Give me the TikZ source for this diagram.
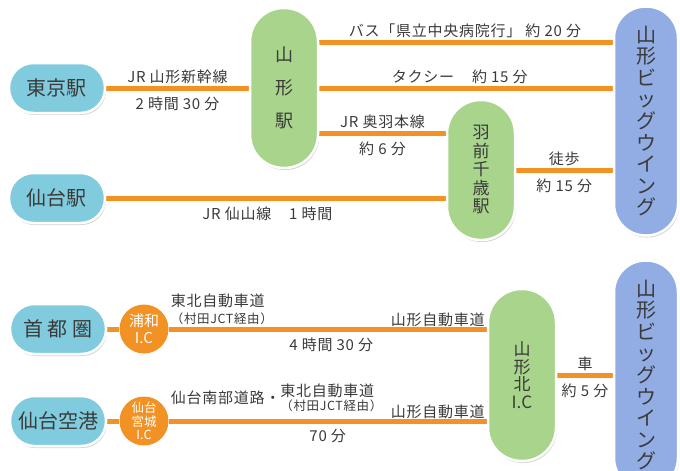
\documentclass[tikz,border=0pt]{standalone}
\usepackage{fontspec}
\setmainfont{Noto Sans CJK JP}
\newfontfamily\lblfont[LetterSpace=5]{Noto Sans CJK JP}
\usetikzlibrary{shadows,backgrounds}

\definecolor{skyc}{RGB}{128,204,222}
\definecolor{leafc}{RGB}{168,212,140}
\definecolor{wingc}{RGB}{146,172,228}
\definecolor{routec}{RGB}{242,146,36}
\definecolor{inkc}{RGB}{58,58,58}

\tikzset{
pill/.style={draw=white, line width=2.5pt, text=inkc, drop shadow={shadow xshift=1pt, shadow yshift=-2pt, opacity=.35}},
originbox/.style={pill, fill=skyc, minimum width=96pt, minimum height=50pt, rounded corners=24.5pt, font=\fontsize{20}{22}\selectfont},
stopbox/.style={pill, fill=leafc, minimum width=68pt, rounded corners=33.5pt, align=center},
goalbox/.style={pill, fill=wingc, minimum width=64pt, minimum height=229pt, rounded corners=31.5pt, align=center, font=\fontsize{20}{21.6}\selectfont},
icbox/.style={circle, fill=routec, minimum size=49pt, inner sep=0pt, text=white, align=center},
route/.style={draw=routec, line width=5pt},
lbl/.style={text=inkc, inner sep=2pt, font=\lblfont\fontsize{15}{17}\selectfont},
}

\begin{document}
\begin{tikzpicture}[x=1pt, y=-1pt]
\useasboundingbox (0,0) rectangle (680,471);
% railway
\node[originbox] (tokyo) at (57,88) {東京駅};
\node[originbox] (sendai) at (57,198) {仙台駅};
\node[stopbox, minimum height=160pt, font=\fontsize{18}{33}\selectfont] (yamaeki) at (284,88) {山\\形\\駅};
\node[stopbox, minimum height=140pt, font=\fontsize{17}{18.5}\selectfont] (uzen) at (481,170) {羽\\前\\千\\歳\\駅};
\node[goalbox] (wingA) at (646,121) {山\\形\\ビ\\ッ\\グ\\ウ\\イ\\ン\\グ};
% highway
\node[originbox] (shuto) at (58,329) {首 都 圏};
\node[originbox] (airport) at (58,421) {仙台空港};
\node[icbox, font=\fontsize{15}{17}\selectfont] (urawa) at (144,329) {浦和\\I.C};
\node[icbox, font=\fontsize{12.5}{13.5}\selectfont] (miyagi) at (144,421) {仙台\\宮城\\I.C};
\node[stopbox, minimum height=172pt, font=\fontsize{17}{17.5}\selectfont] (kita) at (522,375) {山\\形\\北\\I.C};
\node[goalbox] (wingB) at (646,375) {山\\形\\ビ\\ッ\\グ\\ウ\\イ\\ン\\グ};

\coordinate (busL) at ([yshift=46pt]yamaeki.center);
\coordinate (ouL) at ([yshift=-45pt]yamaeki.center);

\begin{scope}[on background layer]
\draw[route] (tokyo) -- node[lbl, above] {JR 山形新幹線} node[lbl, below=4pt] {2 時間 30 分} (yamaeki);
\draw[route] (busL) -- node[lbl, above] {バス「県立中央病院行」 約 20 分} (busL -| wingA);
\draw[route] (yamaeki) -- node[lbl, above, pos=.43] {タクシー\hspace{1.2em}約 15 分} (yamaeki -| wingA);
\draw[route] (ouL) -- node[lbl, above] {JR 奥羽本線} node[lbl, below=4pt] {約 6 分} (ouL -| uzen);
\draw[route] (sendai) -- node[lbl, below=4pt, pos=.43] {JR 仙山線\hspace{1.2em}1 時間} (sendai -| uzen);
\draw[route] (uzen) -- node[lbl, above, pos=.37] {徒歩} node[lbl, below=4pt, pos=.37] {約 15 分} (uzen -| wingA);
\draw[route] (shuto) -- (urawa);
\draw[route] (urawa) -- node[lbl, below=4pt, pos=.46] {4 時間 30 分} (urawa -| kita);
\draw[route] (airport) -- (miyagi);
\draw[route] (miyagi) -- node[lbl, below=4pt, pos=.45] {70 分} (miyagi -| kita);
\draw[route] (kita) -- node[lbl, above] {車} node[lbl, below=4pt] {約 5 分} (wingB);
\end{scope}

\node[lbl, anchor=south west, align=left, yshift=2pt] at (urawa.east) {東北自動車道\\{\fontsize{12.5}{13}\selectfont（村田JCT経由）}};
\node[lbl, anchor=south east] at (urawa -| kita.west) {山形自動車道};
\node[lbl, anchor=south west, yshift=3pt] at (miyagi.east) {仙台南部道路・\begin{tabular}{@{}l@{}}東北自動車道\\[-3pt]{\fontsize{12.5}{13}\selectfont（村田JCT経由）}\end{tabular}};
\node[lbl, anchor=south east] at (miyagi -| kita.west) {山形自動車道};
\end{tikzpicture}
\end{document}
